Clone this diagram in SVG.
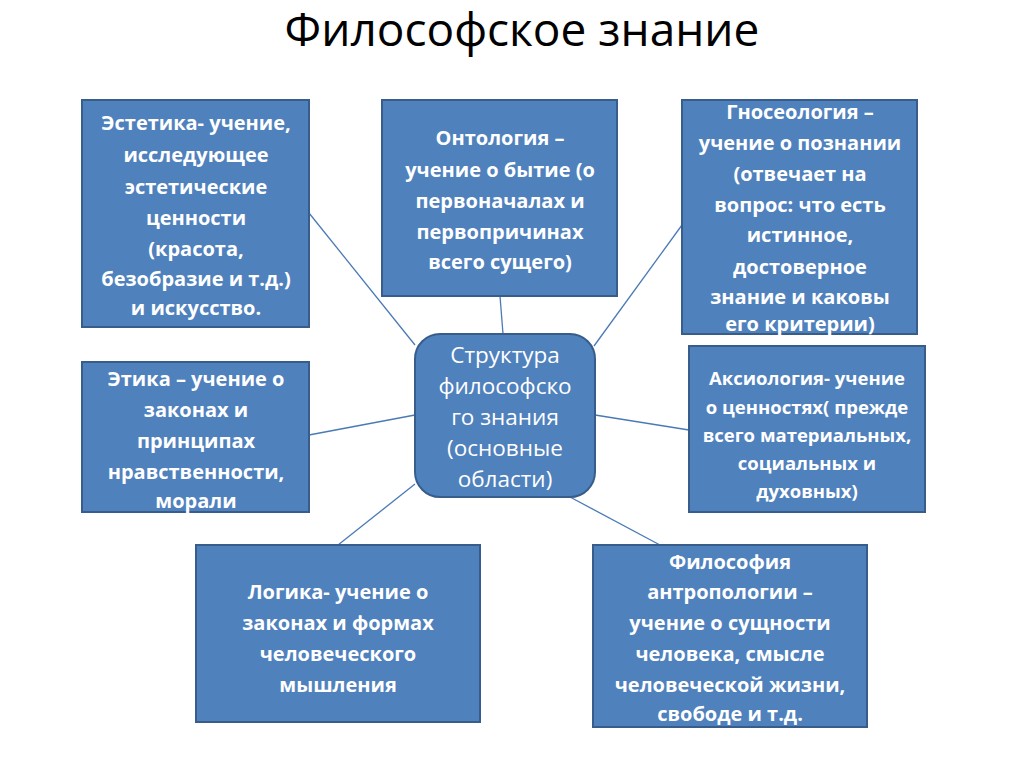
<svg xmlns="http://www.w3.org/2000/svg" width="1024" height="767" viewBox="0 0 1024 767">
<style>
.b{fill:#4f81bd;stroke:#385d8a;stroke-width:2}
.t{font-family:"Open Sans","Liberation Sans",sans-serif;font-weight:bold;font-size:20px;fill:#fff;text-anchor:middle}
.c{font-family:"Open Sans","Liberation Sans",sans-serif;font-size:22.5px;fill:#fff;text-anchor:middle}
.l{stroke:#4a7ab5;stroke-width:1.3;fill:none}
</style>
<rect width="1024" height="767" fill="#fff"/>
<text x="522" y="46" font-family="'Open Sans','Liberation Sans',sans-serif" font-size="46" fill="#000" text-anchor="middle">Философское знание</text>
<g id="connectors">
<line class="l" x1="309" y1="213" x2="415" y2="345"/>
<line class="l" x1="500" y1="296" x2="503" y2="334"/>
<line class="l" x1="682" y1="225" x2="594" y2="346"/>
<line class="l" x1="309" y1="435" x2="415" y2="415"/>
<line class="l" x1="689" y1="430" x2="595" y2="415"/>
<line class="l" x1="338" y1="545" x2="415" y2="484"/>
<line class="l" x1="660" y1="545" x2="570" y2="497"/>
</g>
<g id="center"><rect class="b" x="415" y="334" width="180" height="163" rx="25"/>
<text class="c"><tspan x="505" y="363">Структура</tspan><tspan x="505" y="394">философско</tspan><tspan x="505" y="425">го знания</tspan><tspan x="505" y="456">(основные</tspan><tspan x="505" y="487">области)</tspan></text></g>
<g id="estetika"><rect class="b" x="82" y="100" width="227" height="227"/>
<text class="t"><tspan x="196" y="130">Эстетика- учение,</tspan><tspan x="196" y="162">исследующее</tspan><tspan x="196" y="194">эстетические</tspan><tspan x="196" y="225">ценности</tspan><tspan x="196" y="256">(красота,</tspan><tspan x="196" y="286">безобразие и т.д.)</tspan><tspan x="196" y="315">и искусство.</tspan></text></g>
<g id="ontologia"><rect class="b" x="382" y="100" width="235" height="196"/>
<text class="t"><tspan x="500" y="145">Онтология –</tspan><tspan x="500" y="177">учение о бытие (о</tspan><tspan x="500" y="208">первоначалах и</tspan><tspan x="500" y="239">первопричинах</tspan><tspan x="500" y="269">всего сущего)</tspan></text></g>
<g id="gnoseologia"><rect class="b" x="682" y="100" width="235" height="234"/>
<text class="t"><tspan x="800" y="119">Гносеология –</tspan><tspan x="800" y="150">учение о познании</tspan><tspan x="800" y="181">(отвечает на</tspan><tspan x="800" y="212">вопрос: что есть</tspan><tspan x="800" y="242">истинное,</tspan><tspan x="800" y="274">достоверное</tspan><tspan x="800" y="304">знание и каковы</tspan><tspan x="800" y="331">его критерии)</tspan></text></g>
<g id="etika"><rect class="b" x="82" y="362" width="227" height="150"/>
<text class="t"><tspan x="196" y="386">Этика – учение о</tspan><tspan x="196" y="417">законах и</tspan><tspan x="196" y="448">принципах</tspan><tspan x="196" y="479">нравственности,</tspan><tspan x="196" y="508">морали</tspan></text></g>
<g id="aksiologia"><rect class="b" x="689" y="346" width="236" height="166"/>
<text class="t" style="font-size:18.5px"><tspan x="807" y="385">Аксиология- учение</tspan><tspan x="807" y="414">о ценностях( прежде</tspan><tspan x="807" y="442">всего материальных,</tspan><tspan x="807" y="470">социальных и</tspan><tspan x="807" y="498">духовных)</tspan></text></g>
<g id="logika"><rect class="b" x="196" y="545" width="284" height="177"/>
<text class="t"><tspan x="338" y="599">Логика- учение о</tspan><tspan x="338" y="630">законах и формах</tspan><tspan x="338" y="661">человеческого</tspan><tspan x="338" y="692">мышления</tspan></text></g>
<g id="antropologia"><rect class="b" x="593" y="545" width="274" height="182"/>
<text class="t"><tspan x="730" y="569">Философия</tspan><tspan x="730" y="599">антропологии –</tspan><tspan x="730" y="630">учение о сущности</tspan><tspan x="730" y="661">человека, смысле</tspan><tspan x="730" y="692">человеческой жизни,</tspan><tspan x="730" y="721">свободе и т.д.</tspan></text></g>
</svg>
